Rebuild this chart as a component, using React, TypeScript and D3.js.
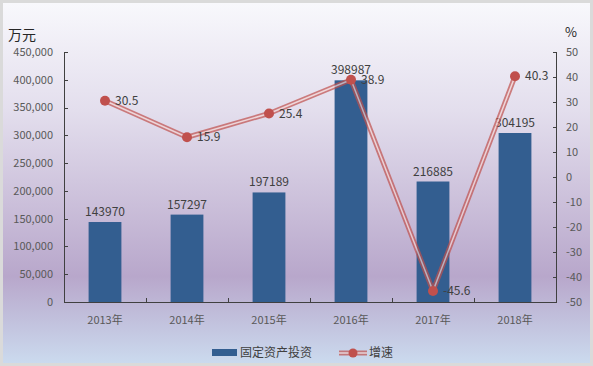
import { scaleBand, scaleLinear, line } from "d3";

// data
const years = ["2013年", "2014年", "2015年", "2016年", "2017年", "2018年"];
const investment = [143970, 157297, 197189, 398987, 216885, 304195];
const growth = [30.5, 15.9, 25.4, 38.9, -45.6, 40.3];
const leftTicks = [0, 50000, 100000, 150000, 200000, 250000, 300000, 350000, 400000, 450000];
const rightTicks = [-50, -40, -30, -20, -10, 0, 10, 20, 30, 40, 50];

const W = 593;
const H = 366;
const margin = { top: 52, right: 37, bottom: 64, left: 64 };
const font = "'Noto Sans CJK SC', 'Noto Sans', sans-serif";
const barColor = "#335e90";
const lineColor = "#c0504d";

export default function App() {
  const x = scaleBand<string>()
    .domain(years)
    .range([margin.left, W - margin.right])
    .paddingInner(0.6)
    .paddingOuter(0.3);

  const yLeft = scaleLinear().domain([0, 450000]).range([H - margin.bottom, margin.top]);
  const yRight = scaleLinear().domain([-50, 50]).range([H - margin.bottom, margin.top]);

  const cx = (d: string) => (x(d) ?? 0) + x.bandwidth() / 2;
  const pts: [number, number][] = years.map((d, i) => [cx(d), yRight(growth[i])]);
  const path = line()(pts) ?? "";

  const x0 = margin.left;
  const x1 = W - margin.right;
  const yb = H - margin.bottom;
  const step = x.step();

  // category boundaries for x-axis tick marks
  const boundaries = years.map((_, i) => x0 + step * i).concat([x1]);

  return (
    <svg
      width={W}
      height={H}
      style={{ position: "absolute", left: 0, top: 0 }}
      fontFamily={font}
    >
      <defs>
        <linearGradient id="bg" x1="0" y1="0" x2="0" y2="1">
          <stop offset="0%" stopColor="#f8f8fc" />
          <stop offset="30%" stopColor="#e3deed" />
          <stop offset="76%" stopColor="#b8a7cb" />
          <stop offset="100%" stopColor="#cbdaee" />
        </linearGradient>
      </defs>

      {/* frame */}
      <rect x={0} y={0} width={W} height={H} fill="#dadada" />
      <rect x={3} y={3} width={W - 6} height={H - 6} fill="url(#bg)" />

      {/* bars */}
      {years.map((d, i) => (
        <rect
          key={d}
          x={x(d)}
          y={yLeft(investment[i])}
          width={x.bandwidth()}
          height={yb - yLeft(investment[i])}
          fill={barColor}
        />
      ))}

      {/* bar labels */}
      {years.map((d, i) => (
        <text
          key={`bl-${d}`}
          x={cx(d)}
          y={yLeft(investment[i]) - 6}
          textAnchor="middle"
          fontSize={12}
          fill="#404040"
        >
          {investment[i]}
        </text>
      ))}

      {/* axes */}
      <g stroke="#404040" strokeWidth={1} fill="none">
        <line x1={x0 + 0.5} x2={x0 + 0.5} y1={margin.top} y2={yb} />
        <line x1={x1 + 0.5} x2={x1 + 0.5} y1={margin.top} y2={yb} />
        <line x1={x0} x2={x1 + 1} y1={yb + 0.5} y2={yb + 0.5} />
        {leftTicks.map((t) => (
          <line key={`lt-${t}`} x1={x0} x2={x0 + 4} y1={Math.round(yLeft(t)) + 0.5} y2={Math.round(yLeft(t)) + 0.5} />
        ))}
        {rightTicks.map((t) => (
          <line key={`rt-${t}`} x1={x1 - 3} x2={x1 + 1} y1={Math.round(yRight(t)) + 0.5} y2={Math.round(yRight(t)) + 0.5} />
        ))}
        {boundaries.map((b, i) => (
          <line key={`xt-${i}`} x1={Math.round(b) + 0.5} x2={Math.round(b) + 0.5} y1={yb} y2={yb - 4} />
        ))}
      </g>

      {/* tick labels */}
      {leftTicks.map((t) => (
        <text key={`ll-${t}`} x={53} y={yLeft(t)} dy="0.35em" textAnchor="end" fontSize={11} fill="#595959">
          {t.toLocaleString("en-US")}
        </text>
      ))}
      {rightTicks.map((t) => (
        <text key={`rl-${t}`} x={566} y={yRight(t)} dy="0.35em" textAnchor="start" fontSize={11} fill="#595959">
          {t}
        </text>
      ))}
      {years.map((d) => (
        <text key={`xl-${d}`} x={cx(d)} y={yb + 22} textAnchor="middle" fontSize={11} fill="#595959">
          {d}
        </text>
      ))}

      {/* unit titles */}
      <text x={8} y={40} fontSize={14} fill="#262626">万元</text>
      <text x={565} y={37} fontSize={13} fill="#262626">%</text>

      {/* growth line (double line look) */}
      <g opacity={0.7} fill="none" strokeLinejoin="round">
        <path d={path} stroke={lineColor} strokeWidth={5} />
        <path d={path} stroke="#f3d3d2" strokeWidth={1.5} />
      </g>
      {pts.map((p, i) => (
        <circle key={`pt-${i}`} cx={p[0]} cy={p[1]} r={5} fill={lineColor} />
      ))}
      {pts.map((p, i) => (
        <text key={`gl-${i}`} x={p[0] + 10} y={p[1]} dy="0.35em" fontSize={12} fill="#404040">
          {growth[i]}
        </text>
      ))}

      {/* legend */}
      <rect x={212} y={349} width={25} height={7} fill={barColor} />
      <text x={240} y={353} dy="0.35em" fontSize={12} fill="#404040">固定资产投资</text>
      <g opacity={0.7}>
        <line x1={339} x2={367} y1={353} y2={353} stroke={lineColor} strokeWidth={5} />
        <line x1={339} x2={367} y1={353} y2={353} stroke="#f3d3d2" strokeWidth={1.5} />
      </g>
      <circle cx={353} cy={353} r={4.5} fill={lineColor} />
      <text x={369} y={353} dy="0.35em" fontSize={12} fill="#404040">增速</text>
    </svg>
  );
}
